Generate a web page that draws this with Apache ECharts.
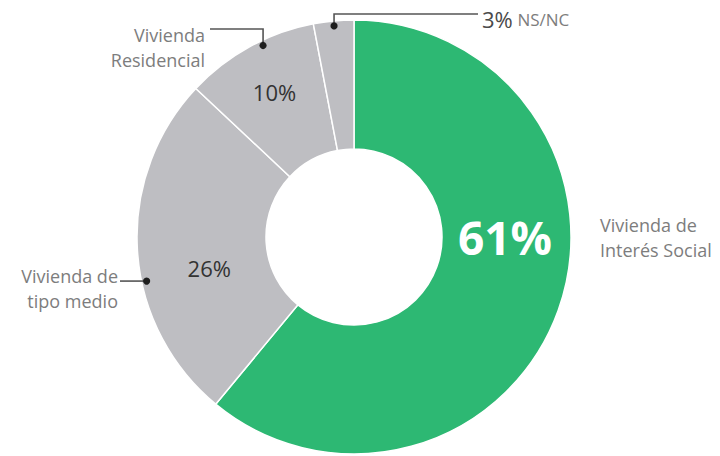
<!DOCTYPE html>
<html>
<head>
<meta charset="utf-8">
<script src="https://cdn.jsdelivr.net/npm/echarts@6/dist/echarts.min.js"></script>
<style>
  html, body { margin: 0; padding: 0; background: #fff; }
  #chart { width: 720px; height: 456px; }
</style>
</head>
<body>
<div id="chart"></div>
<script>
// ---- data ----
const categories = ['Vivienda de\nInterés Social', 'Vivienda de\ntipo medio', 'Vivienda\nResidencial', 'NS/NC'];
const values = [61, 26, 10, 3];

// ---- style / layout config ----
const CENTER = [354, 237];
const R_IN = 88, R_OUT = 217;
const FONT = 'Open Sans';
const sliceColors = ['#2db873', '#bebec2', '#bebec2', '#bebec2'];
const pctAngleShift = [-19.8, -8.4, 0, 0];
const pctRadius = [151, 148, 165, 0];
const dotAngleShift = [0, -8.4, 3.4, 0];
const dotRadius = 212;
const outerSpec = [
  { x: 600, y: 237, align: 'left' },
  { x: 118, y: 288, align: 'right', line: 'h', endX: 120 },
  { x: 205, y: 47, align: 'right', line: 'vh', elbowY: 29, endX: 210 },
  { x: 482, y: 19, align: 'left', line: 'vh', elbowY: 14, endX: 478 }
];

const total = values.reduce((a, b) => a + b, 0);
function midAngle(i) {
  let cum = 0;
  for (let k = 0; k < i; k++) cum += values[k];
  return 360 * (cum + values[i] / 2) / total;
}
function polar(angDeg, r) {
  const a = angDeg * Math.PI / 180;
  return [CENTER[0] + r * Math.sin(a), CENTER[1] - r * Math.cos(a)];
}
function dotPoint(i) { return polar(midAngle(i) + dotAngleShift[i], dotRadius); }

const chart = echarts.init(document.getElementById('chart'), null, { renderer: 'svg' });

const pctLabelStyles = [
  { fontSize: 46, fontWeight: 'bold', color: '#ffffff' },
  { fontSize: 22, color: '#333333' },
  { fontSize: 22, color: '#333333' },
  { show: false }
];

const mainData = values.map((v, i) => ({
  value: v,
  name: categories[i],
  itemStyle: { color: sliceColors[i] },
  label: Object.assign({ show: true, fontFamily: FONT, formatter: '{c}%', overflow: 'none' }, pctLabelStyles[i])
}));

const overlayData = values.map((v, i) => ({
  value: v,
  name: categories[i],
  labelLine: { show: !!outerSpec[i].line }
}));

const graphics = [1, 2, 3].map(i => {
  const p = dotPoint(i);
  return { type: 'circle', z: 100, shape: { cx: p[0], cy: p[1], r: 3.6 }, style: { fill: '#1e1e1e' } };
});

chart.setOption({
  animation: false,
  backgroundColor: '#ffffff',
  series: [
    {
      type: 'pie',
      center: CENTER,
      radius: [R_IN, R_OUT],
      startAngle: 90,
      clockwise: true,
      silent: true,
      itemStyle: { borderColor: '#ffffff', borderWidth: 1.5 },
      label: { position: 'inside' },
      labelLine: { show: false },
      labelLayout: function (p) {
        const i = p.dataIndex;
        const pt = polar(midAngle(i) + pctAngleShift[i], pctRadius[i]);
        return { x: pt[0], y: pt[1], align: 'center', verticalAlign: 'middle' };
      },
      data: mainData
    },
    {
      type: 'pie',
      center: CENTER,
      radius: [R_IN, R_OUT],
      startAngle: 90,
      clockwise: true,
      silent: true,
      z: 3,
      itemStyle: { color: 'rgba(0,0,0,0)', borderWidth: 0 },
      label: {
        show: true,
        position: 'outside',
        overflow: 'none',
        width: 300,
        fontFamily: FONT,
        fontSize: 18,
        lineHeight: 25,
        color: '#7d7d7d',
        formatter: function (p) {
          if (p.dataIndex === 3) return '{p|' + p.value + '%} {n|' + p.name + '}';
          return p.name;
        },
        rich: {
          p: { fontFamily: FONT, fontSize: 22, color: '#4a4a4a' },
          n: { fontFamily: FONT, fontSize: 17, color: '#7d7d7d' }
        }
      },
      labelLine: { show: true, lineStyle: { color: '#555555', width: 1.6 } },
      labelLayout: function (p) {
        const i = p.dataIndex;
        const s = outerSpec[i];
        const res = { x: s.x, y: s.y, align: s.align, verticalAlign: 'middle' };
        const d = dotPoint(i);
        if (s.line === 'h') {
          res.labelLinePoints = [[d[0], d[1]], [s.endX, d[1]], [s.endX, d[1]]];
        } else if (s.line === 'vh') {
          res.labelLinePoints = [[d[0], d[1]], [d[0], s.elbowY], [s.endX, s.elbowY]];
        }
        return res;
      },
      data: overlayData
    }
  ],
  graphic: graphics
});
</script>
</body>
</html>
